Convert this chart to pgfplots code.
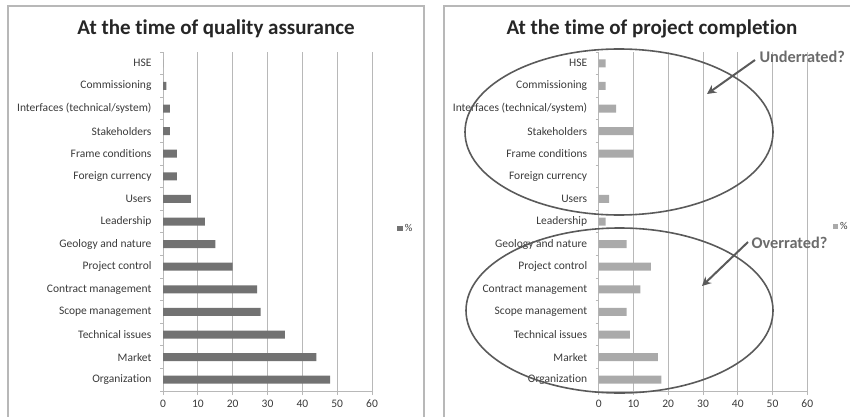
\documentclass[border=0pt]{standalone}
\usepackage{pgfplots}
\pgfplotsset{compat=1.18}
\usepackage{fontspec}
\setmainfont{Carlito}[Ligatures={NoCommon}]
\usetikzlibrary{arrows.meta}
\definecolor{txt}{HTML}{3A3A3A}
\definecolor{barL}{HTML}{727272}
\definecolor{barR}{HTML}{AAAAAA}
\definecolor{gridc}{HTML}{B8B8B8}
\definecolor{annot}{HTML}{5A5A5A}
\pgfplotstableread{
idx left right
0 48 18
1 44 17
2 35 9
3 28 8
4 27 12
5 20 15
6 15 8
7 12 2
8 8 3
9 4 0
10 4 10
11 2 10
12 2 5
13 1 2
14 0 2
}\datatable
\pgfplotsset{
  panel/.style={
    scale only axis, width=209pt, height=339pt,
    xbar, bar width=8pt,
    xmin=0, xmax=60, ymin=-0.5, ymax=14.5,
    axis x line*=bottom, axis y line*=left,
    axis line style={gridc, line width=0.8pt},
    xtick={0,10,...,60},
    xmajorgrids, major grid style={gridc, line width=0.8pt},
    ytick={0,...,14},
    yticklabels={Organization, Market, Technical issues, Scope management, Contract management, Project control, Geology and nature, Leadership, Users, Foreign currency, Frame conditions, Stakeholders, Interfaces (technical/system), Commissioning, HSE},
    minor ytick={-0.5,0.5,...,14.5},
    major tick length=4pt,
    minor tick length=3pt,
    tick align=outside,
    tick style={gridc, line width=0.8pt},
    every major y tick/.style={draw=none},
    ticklabel style={font=\fontsize{11.5}{13}\selectfont, text=txt},
    /pgf/number format/assume math mode=true,
    yticklabel style={xshift=-4pt},
    xticklabel style={yshift=-1pt},
    legend style={draw=none, fill=none, font=\fontsize{10.5}{12}\selectfont, text=txt, anchor=west, inner sep=0pt},
    legend image code/.code={\fill[##1] (0pt,-2.5pt) rectangle (5.5pt,3pt);},
  }
}
\begin{document}
\begin{tikzpicture}[x=1pt,y=1pt]
\useasboundingbox (0,0) rectangle (850,416);
\begin{scope}
\clip (0,0) rectangle (850,416);
\draw[gridc, line width=1.2pt] (8,-5) -- (8,410) -- (424,410) -- (424,-5);
\draw[gridc, line width=1.2pt] (444,-5) -- (444,410) -- (860,410);
\end{scope}
\node[font=\bfseries\fontsize{21}{24}\selectfont, text=black!85] at (216,387) {At the time of quality assurance};
\node[font=\bfseries\fontsize{21}{24}\selectfont, text=black!85] at (652,387) {At the time of project completion};
\begin{axis}[panel, at={(163pt,25pt)}, anchor=south west,
  legend style={at={(1.12,0.478)}}]
\addplot[fill=barL, draw=none] table[x=left, y=idx] {\datatable};
\addlegendentry{\%}
\end{axis}
\begin{axis}[panel, at={(598.7pt,25pt)}, anchor=south west, width=208.6pt,
  legend style={at={(1.12,0.484)}}]
\addplot[fill=barR, draw=none] table[x=right, y=idx] {\datatable};
\addlegendentry{\%}
\end{axis}
\draw[annot, line width=1.6pt] (619,284) ellipse [x radius=154, y radius=83];
\draw[annot, line width=1.6pt] (619.5,105.5) ellipse [x radius=153.5, y radius=82.5];
\draw[annot, line width=2pt, -{Stealth[length=9pt,width=9pt]}] (755,356) -- (707,322);
\draw[annot, line width=2pt, -{Stealth[length=9pt,width=9pt]}] (748,174) -- (702,130);
\node[anchor=west, font=\bfseries\fontsize{16.3}{18}\selectfont, text=annot!90] at (756,359) {Underrated?};
\node[anchor=west, font=\bfseries\fontsize{16.3}{18}\selectfont, text=annot!90] at (748,173) {Overrated?};
\end{tikzpicture}
\end{document}
